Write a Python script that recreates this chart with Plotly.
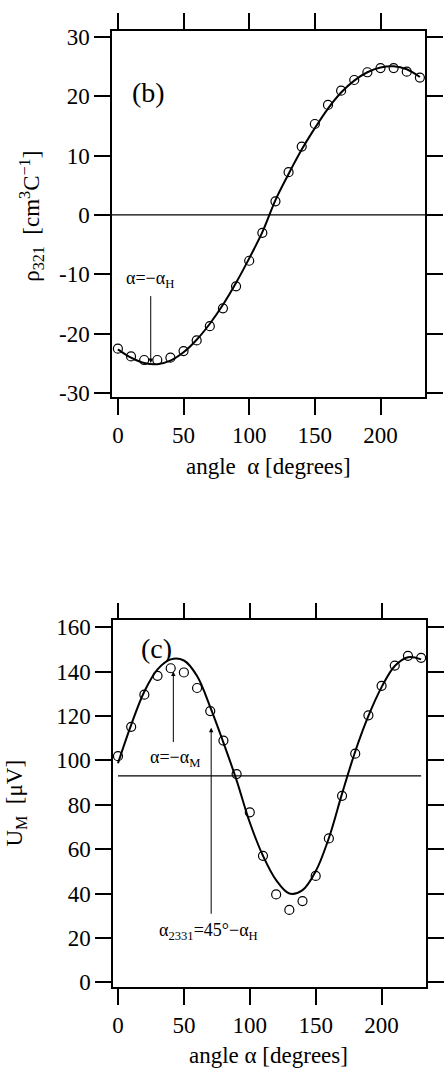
import plotly.graph_objects as go

# ---------------- data ----------------
# panel (b)
angle_b = [0, 10, 20, 30, 40, 50, 60, 70, 80, 90, 100, 110, 120, 130, 140, 150,
           160, 170, 180, 190, 200, 210, 220, 230]
rho_meas = [-22.5, -23.8, -24.4, -24.4, -24.0, -22.9, -21.1, -18.7, -15.7, -12.0,
            -7.7, -3.0, 2.3, 7.2, 11.5, 15.3, 18.5, 20.9, 22.7, 24.0, 24.7, 24.7,
            24.1, 23.1]
rho_fit = [-22.6, -24.0, -24.9, -25.1, -24.5, -23.1, -21.0, -18.3, -15.1, -11.4,
           -7.3, -2.9, 2.5, 6.9, 11.0, 14.6, 17.9, 20.6, 22.6, 24.0, 24.8, 25.0,
           24.5, 23.2]
ref_level_b = 0
yticks_b = [-30, -20, -10, 0, 10, 20, 30]
yticklabels_b = ["-30", "-20", "-10", "0", "10", "20", "30"]

# panel (c)
angle_c = [0, 10, 20, 30, 40, 50, 60, 70, 80, 90, 100, 110, 120, 130, 140, 150,
           160, 170, 180, 190, 200, 210, 220, 230]
um_meas = [101.9, 115.1, 129.6, 138.1, 141.5, 139.6, 132.6, 122.2, 108.9, 93.8,
           76.6, 57.0, 39.6, 32.6, 36.6, 47.9, 64.8, 84.0, 103.0, 120.3, 133.6,
           142.7, 147.1, 146.2]
um_fit = [98.7, 116, 131, 141, 145.5, 145, 138, 124, 108, 91, 72, 57, 46, 40,
          41.5, 50, 65, 85, 104, 120, 133, 142.5, 146.5, 145.5]
ref_level_c = 93
yticks_c = [0, 20, 40, 60, 80, 100, 120, 140, 160]
yticklabels_c = ["0", "20", "40", "60", "80", "100", "120", "140", "160"]

xticks = [0, 50, 100, 150, 200]
xticklabels = ["0", "50", "100", "150", "200"]

# annotation anchor angles / values
alpha_H = 25
alpha_M = 42
alpha_2331 = 70.7

W, H = 444, 1078
FONT = "Liberation Serif"

fig = go.Figure()

# panel b traces
fig.add_trace(go.Scatter(x=[angle_b[0] - 4.5, angle_b[-1] + 4], y=[ref_level_b, ref_level_b],
                         mode="lines", line=dict(color="black", width=1.3),
                         xaxis="x", yaxis="y", showlegend=False))
fig.add_trace(go.Scatter(x=angle_b, y=rho_fit, mode="lines", line_shape="spline",
                         line=dict(color="black", width=2), xaxis="x", yaxis="y",
                         showlegend=False))
fig.add_trace(go.Scatter(x=angle_b, y=rho_meas, mode="markers",
                         marker=dict(symbol="circle-open", size=9, color="black",
                                     line=dict(width=1.2, color="black")),
                         xaxis="x", yaxis="y", showlegend=False))

# panel c traces
fig.add_trace(go.Scatter(x=[angle_c[0], angle_c[-1]], y=[ref_level_c, ref_level_c],
                         mode="lines", line=dict(color="black", width=1.3),
                         xaxis="x2", yaxis="y2", showlegend=False))
fig.add_trace(go.Scatter(x=angle_c, y=um_fit, mode="lines", line_shape="spline",
                         line=dict(color="black", width=2), xaxis="x2", yaxis="y2",
                         showlegend=False))
fig.add_trace(go.Scatter(x=angle_c, y=um_meas, mode="markers",
                         marker=dict(symbol="circle-open", size=9, color="black",
                                     line=dict(width=1.2, color="black")),
                         xaxis="x2", yaxis="y2", showlegend=False))

axis_common = dict(showline=True, linecolor="black", linewidth=1.5, mirror="ticks",
                   ticks="outside", ticklen=16, tickwidth=1.5, tickcolor="black",
                   showgrid=False, zeroline=False,
                   tickfont=dict(family=FONT, size=23, color="black"))

fig.update_layout(
    width=W, height=H,
    margin=dict(l=0, r=0, t=0, b=0),
    paper_bgcolor="white", plot_bgcolor="white",
    xaxis=dict(domain=[112 / W, 428 / W], range=[-4.5, 234], anchor="y",
               tickvals=xticks, ticktext=xticklabels, **axis_common),
    yaxis=dict(domain=[1 - 397 / H, 1 - 25 / H], range=[-30.7, 31], anchor="x",
               tickvals=yticks_b, ticktext=yticklabels_b, **axis_common),
    xaxis2=dict(domain=[113 / W, 429 / W], range=[-3.8, 233.8], anchor="y2",
                tickvals=xticks, ticktext=xticklabels, **axis_common),
    yaxis2=dict(domain=[1 - 995 / H, 1 - 623 / H], range=[-2.2, 163.1], anchor="x2",
                tickvals=yticks_c, ticktext=yticklabels_c, **axis_common),
)

tf = dict(family=FONT, size=23, color="black")
sf = dict(family=FONT, size=18, color="black")
ann = []
# axis titles
ann.append(dict(text="angle\u00a0\u00a0α [degrees]", x=270 / W, y=1 - 467 / H, xref="paper",
                yref="paper", showarrow=False, font=tf, xanchor="center", yanchor="middle"))
ann.append(dict(text="angle α [degrees]", x=270 / W, y=1 - 1064 / H, xref="paper",
                yref="paper", showarrow=False, font=tf, xanchor="center", yanchor="middle"))
ann.append(dict(text="ρ<sub>321</sub>\u00a0\u00a0[cm<sup>3</sup>C<sup>−1</sup>]", x=30 / W,
                y=1 - 213 / H, xref="paper", yref="paper", showarrow=False, font=tf,
                textangle=-90, xanchor="center", yanchor="middle"))
ann.append(dict(text="U<sub>M</sub>\u00a0\u00a0[μV]", x=15 / W, y=1 - 808 / H, xref="paper",
                yref="paper", showarrow=False, font=tf, textangle=-90, xanchor="center",
                yanchor="middle"))
# panel labels
ann.append(dict(text="(b)", x=149 / W, y=1 - 70 / H, xref="paper", yref="paper",
                showarrow=False, font=dict(family=FONT, size=28, color="black")))
ann.append(dict(text="(c)", x=139 / W, y=1 - 652 / H, xref="paper", yref="paper",
                showarrow=False, font=dict(family=FONT, size=28, color="black")))
# panel b arrow + label
ann.append(dict(x=alpha_H, y=-24.9, ax=alpha_H, ay=-13.4, xref="x", yref="y", axref="x",
                ayref="y", text="", showarrow=True, arrowhead=2, arrowsize=0.9,
                arrowwidth=1, arrowcolor="black"))
ann.append(dict(x=24.2, y=-10.9, xref="x", yref="y", text="α=−α<sub>H</sub>",
                showarrow=False, font=sf))
# panel c arrows + labels
ann.append(dict(x=alpha_M, y=140, ax=alpha_M, ay=107.6, xref="x2", yref="y2", axref="x2",
                ayref="y2", text="", showarrow=True, arrowhead=2, arrowsize=0.9,
                arrowwidth=1, arrowcolor="black"))
ann.append(dict(x=43, y=100.9, xref="x2", yref="y2", text="α=−α<sub>M</sub>",
                showarrow=False, font=sf))
ann.append(dict(x=alpha_2331, y=114.7, ax=alpha_2331, ay=30.2, xref="x2", yref="y2",
                axref="x2", ayref="y2", text="", showarrow=True, arrowhead=2,
                arrowsize=0.9, arrowwidth=1, arrowcolor="black"))
ann.append(dict(x=69, y=23.1, xref="x2", yref="y2",
                text="α<sub>2331</sub>=45°−α<sub>H</sub>", showarrow=False, font=sf))
fig.update_layout(annotations=ann)

fig.write_html("out.html")
